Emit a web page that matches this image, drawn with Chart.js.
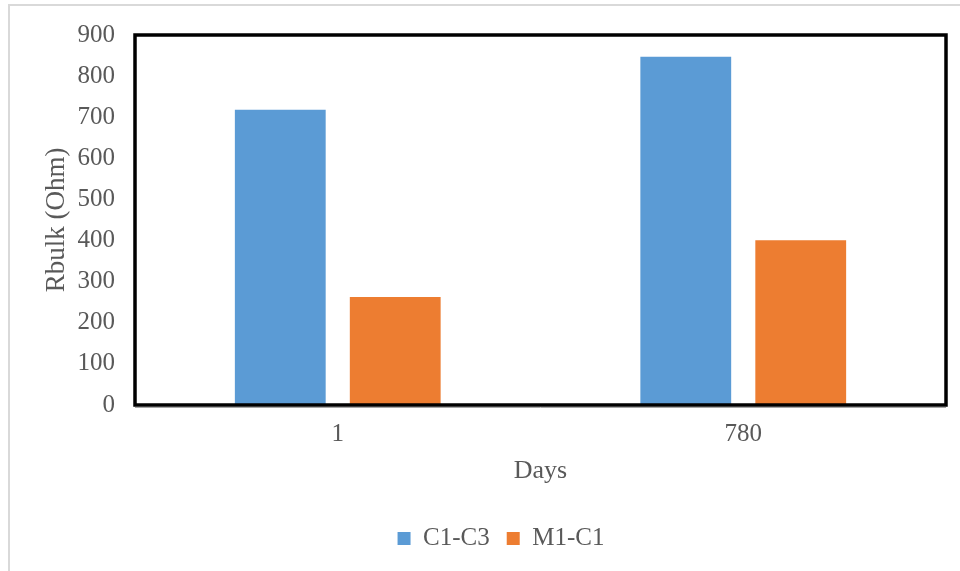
<!DOCTYPE html>
<html>
<head>
<meta charset="utf-8">
<script src="https://cdn.jsdelivr.net/npm/chart.js@4/dist/chart.umd.min.js"></script>
<style>
  html, body { margin: 0; padding: 0; background: #ffffff; }
  #wrap { width: 960px; height: 571px; position: relative; }
</style>
</head>
<body>
<div id="wrap"><canvas id="chart" width="960" height="571"></canvas></div>
<script>
// Bulk resistance measured at two ages
const days = ['1', '780'];
const seriesNames = ['C1-C3', 'M1-C1'];
const c1c3 = [718, 847];
const m1c1 = [263, 401];
const yTicks = [0, 100, 200, 300, 400, 500, 600, 700, 800, 900];

const serif = "'Liberation Serif', 'Times New Roman', serif";
const grey = '#595959';

// Thin light frame around the figure and heavy box around the plot area
const frames = {
  id: 'frames',
  beforeDraw(chart) {
    const ctx = chart.ctx;
    ctx.save();
    ctx.strokeStyle = '#d9d9d9';
    ctx.lineWidth = 2;
    ctx.beginPath();
    ctx.moveTo(9, 571);
    ctx.lineTo(9, 5);
    ctx.lineTo(960, 5);
    ctx.stroke();
    ctx.restore();
    // legend sits centred on the full figure width, which runs past the canvas edge
    if (chart.legend && !chart.legend._shifted) {
      chart.legend.left += 28;
      chart.legend.right += 28;
      chart.legend._shifted = true;
    }
  },
  afterDatasetsDraw(chart) {
    const a = chart.chartArea;
    const ctx = chart.ctx;
    ctx.save();
    ctx.strokeStyle = '#a6a6a6';
    ctx.lineWidth = 1;
    ctx.beginPath();
    ctx.moveTo(a.left, a.bottom + 2.5);
    ctx.lineTo(a.right, a.bottom + 2.5);
    ctx.stroke();
    ctx.strokeStyle = '#000000';
    ctx.lineWidth = 3.5;
    ctx.strokeRect(a.left, a.top, a.right - a.left, a.bottom - a.top);
    ctx.restore();
  }
};

new Chart(document.getElementById('chart'), {
  type: 'bar',
  data: {
    labels: days,
    datasets: [
      { label: seriesNames[0], data: c1c3, backgroundColor: '#5b9bd5', categoryPercentage: 0.567, barPercentage: 0.79 },
      { label: seriesNames[1], data: m1c1, backgroundColor: '#ed7d31', categoryPercentage: 0.567, barPercentage: 0.79 }
    ]
  },
  options: {
    responsive: false,
    animation: false,
    layout: { padding: { top: 34, right: 14, left: 0, bottom: 10 } },
    plugins: {
      tooltip: { enabled: false },
      legend: {
        position: 'bottom',
        labels: {
          font: { family: serif, size: 25 },
          color: grey,
          boxWidth: 13,
          boxHeight: 13,
          padding: 17
        }
      }
    },
    scales: {
      x: {
        grid: { display: false, drawTicks: false },
        border: { display: false },
        ticks: { font: { family: serif, size: 25 }, color: grey, padding: 14 },
        title: { display: true, text: 'Days', font: { family: serif, size: 26 }, color: grey, padding: { top: 8, bottom: 22 } },
        afterFit(s) { s.height = 104; }
      },
      y: {
        min: 0,
        max: 900,
        afterBuildTicks(s) { s.ticks = yTicks.map(v => ({ value: v })); },
        grid: { display: false, drawTicks: false },
        border: { display: false },
        ticks: { font: { family: serif, size: 25 }, color: grey, padding: 20 },
        title: { display: true, text: 'Rbulk (Ohm)', font: { family: serif, size: 27 }, color: grey, padding: { top: 41, bottom: 0 } },
        afterFit(s) { s.width = 135; }
      }
    }
  },
  plugins: [frames]
});
</script>
</body>
</html>
